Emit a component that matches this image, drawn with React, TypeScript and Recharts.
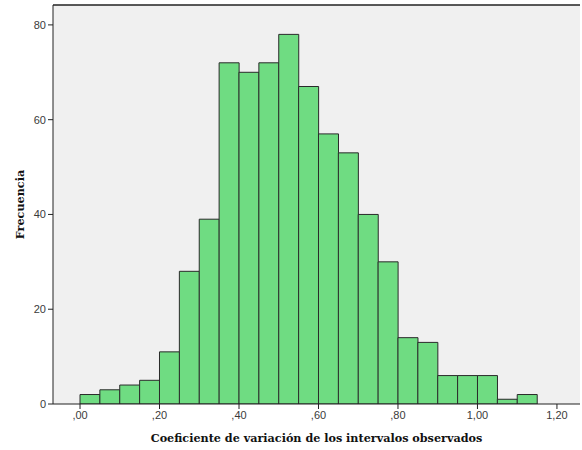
import React from 'react'
import {
  BarChart, Bar, XAxis, YAxis, CartesianGrid, ReferenceLine,
} from 'recharts'

// bin start values (width 0,05)
const binStarts = [
  0.0, 0.05, 0.1, 0.15, 0.2, 0.25, 0.3, 0.35, 0.4, 0.45, 0.5, 0.55,
  0.6, 0.65, 0.7, 0.75, 0.8, 0.85, 0.9, 0.95, 1.0, 1.05, 1.1,
]
const frecuencias = [
  2, 3, 4, 5, 11, 28, 39, 72, 70, 72, 78, 67,
  57, 53, 40, 30, 14, 13, 6, 6, 6, 1, 2,
]
const xTicks = [0, 0.2, 0.4, 0.6, 0.8, 1.0, 1.2]
const yTicks = [0, 20, 40, 60, 80]

const data = binStarts.map((s, i) => ({
  bin: s.toFixed(2),
  mid: s + 0.025,
  frecuencia: frecuencias[i],
}))

const X_DOMAIN: [number, number] = [-0.068, 1.258]
const Y_MAX = 84.2

const fmt = (v: number) => {
  const s = v.toFixed(2).replace('.', ',')
  return s.startsWith('0') ? s.slice(1) : s
}

const tickStyle = { fontSize: 11, fill: '#3a3a3a', fontFamily: 'Liberation Sans, Arial, sans-serif' }
const titleStyle = { fontSize: 11.2, fontWeight: 700, fill: '#111', fontFamily: 'DejaVu Serif, serif' }

export default function App() {
  return (
    <div style={{ position: 'absolute', left: 0, top: 0, background: '#fff' }}>
      <BarChart
        width={582}
        height={450}
        data={data}
        margin={{ top: 5, right: 2, bottom: 0, left: 0 }}
        barCategoryGap={0}
      >
        <CartesianGrid fill="#f0f0f0" horizontal={false} vertical={false} />
        <XAxis
          xAxisId="bins"
          dataKey="bin"
          hide
          height={0}
          padding={{ left: 27, right: 42.9 }}
        />
        <XAxis
          xAxisId="num"
          dataKey="mid"
          type="number"
          domain={X_DOMAIN}
          allowDataOverflow
          ticks={xTicks}
          tickFormatter={fmt}
          height={46}
          tick={tickStyle}
          tickSize={5}
          stroke="#222"
          label={({ viewBox }: any) => (
            <text
              x={viewBox.x + viewBox.width / 2}
              y={viewBox.y + 38}
              textAnchor="middle"
              style={titleStyle}
            >
              Coeficiente de variación de los intervalos observados
            </text>
          )}
        />
        <YAxis
          domain={[0, Y_MAX]}
          allowDataOverflow
          ticks={yTicks}
          width={53}
          tick={tickStyle}
          tickSize={5}
          stroke="#222"
          label={({ viewBox }: any) => {
            const cx = 20
            const cy = viewBox.y + viewBox.height / 2
            return (
              <text
                x={cx}
                y={cy}
                textAnchor="middle"
                dominantBaseline="central"
                transform={`rotate(-90, ${cx}, ${cy})`}
                style={titleStyle}
              >
                Frecuencia
              </text>
            )
          }}
        />
        <ReferenceLine y={Y_MAX} xAxisId="bins" stroke="#222" strokeWidth={1.5} />
        <Bar
          xAxisId="bins"
          dataKey="frecuencia"
          fill="#6fdc82"
          stroke="#2a2a2a"
          strokeWidth={1}
          isAnimationActive={false}
        />
      </BarChart>
    </div>
  )
}
